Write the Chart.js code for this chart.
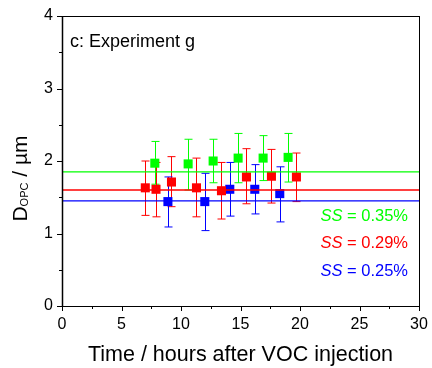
<!DOCTYPE html>
<html>
<head>
<meta charset="utf-8">
<script src="https://cdn.jsdelivr.net/npm/chart.js@4"></script>
<style>
  html, body { margin: 0; padding: 0; background: #fff; }
</style>
</head>
<body>
<canvas id="myChart" width="432" height="368"></canvas>
<script>
// SS = 0.35 %
const greenX = [7.8, 10.6, 12.7, 14.8, 16.9, 19.0];
const greenY = [1.97, 1.96, 2.00, 2.04, 2.04, 2.05];
const greenHi = [2.27, 2.30, 2.30, 2.38, 2.35, 2.38];
const greenLo = [1.68, 1.60, 1.70, 1.70, 1.73, 1.71];
// SS = 0.29 %
const redX = [7.0, 7.9, 9.2, 11.3, 13.4, 15.5, 17.6, 19.7];
const redY = [1.63, 1.61, 1.71, 1.63, 1.59, 1.78, 1.79, 1.78];
const redHi = [2.00, 1.98, 2.06, 2.04, 1.98, 2.17, 2.16, 2.11];
const redLo = [1.25, 1.23, 1.37, 1.23, 1.20, 1.41, 1.42, 1.44];
// SS = 0.25 %
const blueX = [8.9, 12.0, 14.1, 16.2, 18.3];
const blueY = [1.44, 1.44, 1.61, 1.61, 1.55];
const blueHi = [1.78, 1.83, 1.98, 1.95, 1.92];
const blueLo = [1.09, 1.04, 1.24, 1.27, 1.16];
// reference levels
const levelX = [0, 30];
const greenLevel = 1.85;
const redLevel = 1.60;
const blueLevel = 1.45;

const GREEN = "#00ff00", RED = "#ff0000", BLUE = "#0000ff";
const FONT = "'Liberation Sans', Arial, sans-serif";

function pts(xs, ys) {
  return xs.map((x, i) => ({ x: x, y: ys[i] }));
}
function level(v) {
  return levelX.map(x => ({ x: x, y: v }));
}
function squares(label, xs, ys, hi, lo, color) {
  return {
    label: label,
    type: "scatter",
    data: pts(xs, ys),
    errHi: hi,
    errLo: lo,
    pointStyle: "rect",
    pointRadius: 6.4,
    pointHoverRadius: 6.4,
    backgroundColor: color,
    borderColor: color,
    borderWidth: 0,
  };
}
function hline(v, color) {
  return {
    type: "line",
    data: level(v),
    borderColor: color,
    borderWidth: 1.3,
    pointRadius: 0,
    fill: false,
  };
}

const errorBars = {
  id: "errorBars",
  beforeDatasetsDraw(chart) {
    const ctx = chart.ctx, xs = chart.scales.x, ys = chart.scales.y;
    ctx.save();
    ctx.lineWidth = 1;
    chart.data.datasets.forEach(ds => {
      if (!ds.errHi) return;
      ctx.strokeStyle = ds.borderColor;
      ds.data.forEach((p, i) => {
        const px = Math.round(xs.getPixelForValue(p.x)) + 0.5;
        const t = ys.getPixelForValue(ds.errHi[i]);
        const b = ys.getPixelForValue(ds.errLo[i]);
        ctx.beginPath();
        ctx.moveTo(px, t); ctx.lineTo(px, b);
        ctx.moveTo(px - 4, t); ctx.lineTo(px + 4, t);
        ctx.moveTo(px - 4, b); ctx.lineTo(px + 4, b);
        ctx.stroke();
      });
    });
    ctx.restore();
  },
};

const decorations = {
  id: "decorations",
  afterDraw(chart) {
    const ctx = chart.ctx, a = chart.chartArea;
    const xs = chart.scales.x, ys = chart.scales.y;
    ctx.save();
    // frame
    ctx.strokeStyle = "#000";
    ctx.lineWidth = 1;
    ctx.strokeRect(a.left + 0.5, a.top + 0.5, a.right - a.left, a.bottom - a.top);
    ctx.lineWidth = 1.5;
    ctx.beginPath();
    ctx.moveTo(a.left + 0.5, a.top); ctx.lineTo(a.left + 0.5, a.bottom + 0.5);
    ctx.stroke();
    // ticks
    ctx.lineWidth = 1;
    ctx.beginPath();
    for (let v = 0; v <= 4.001; v += 0.5) {
      const py = Math.round(ys.getPixelForValue(v)) + 0.5;
      const len = Math.abs(v - Math.round(v)) < 0.01 ? 5 : 3;
      ctx.moveTo(a.left - len, py); ctx.lineTo(a.left, py);
    }
    for (let v = 0; v <= 30.001; v += 2.5) {
      const px = Math.round(xs.getPixelForValue(v)) + 0.5;
      const len = Math.abs(v / 5 - Math.round(v / 5)) < 0.01 ? 5 : 3;
      ctx.moveTo(px, a.bottom); ctx.lineTo(px, a.bottom + len);
    }
    ctx.stroke();

    ctx.fillStyle = "#000";
    ctx.textBaseline = "alphabetic";
    // panel label
    ctx.font = "18px " + FONT;
    ctx.textAlign = "left";
    ctx.fillText("c: Experiment g", 70, 47);
    // x title
    ctx.font = "21.5px " + FONT;
    ctx.textAlign = "center";
    ctx.fillText("Time / hours after VOC injection", (a.left + a.right) / 2, 361);
    // y title with subscript
    ctx.textAlign = "left";
    const big = "21px " + FONT, small = "11px " + FONT;
    ctx.font = big; const wD = ctx.measureText("D").width;
    const wRest = ctx.measureText(" / µm").width;
    ctx.font = small; const wSub = ctx.measureText("OPC").width;
    const total = wD + wSub + wRest;
    ctx.save();
    ctx.translate(27, 178.5);
    ctx.rotate(-Math.PI / 2);
    let x0 = -total / 2;
    ctx.font = big; ctx.fillText("D", x0, 0);
    ctx.font = small; ctx.fillText("OPC", x0 + wD, 1);
    ctx.font = big; ctx.fillText(" / µm", x0 + wD + wSub, 0);
    ctx.restore();
    // legend texts
    const legend = [["0.35%", GREEN, 221], ["0.29%", RED, 248], ["0.25%", BLUE, 276]];
    legend.forEach(([val, col, base]) => {
      ctx.fillStyle = col;
      ctx.font = "italic 16.5px " + FONT;
      const wSS = ctx.measureText("SS").width;
      ctx.font = "16.5px " + FONT;
      const rest = " = " + val;
      const wR = ctx.measureText(rest).width;
      const start = 408 - wSS - wR;
      ctx.font = "italic 16.5px " + FONT;
      ctx.fillText("SS", start, base);
      ctx.font = "16.5px " + FONT;
      ctx.fillText(rest, start + wSS, base);
    });
    ctx.restore();
  },
};

const config = {
  data: {
    datasets: [
      hline(greenLevel, GREEN),
      hline(redLevel, RED),
      hline(blueLevel, BLUE),
      squares("SS = 0.35%", greenX, greenY, greenHi, greenLo, GREEN),
      squares("SS = 0.29%", redX, redY, redHi, redLo, RED),
      squares("SS = 0.25%", blueX, blueY, blueHi, blueLo, BLUE),
    ],
  },
  options: {
    responsive: false,
    animation: false,
    devicePixelRatio: 1,
    layout: { padding: { top: 16, right: 13, left: 0, bottom: 0 } },
    plugins: { legend: { display: false }, tooltip: { enabled: false } },
    scales: {
      x: {
        type: "linear",
        min: 0,
        max: 30,
        ticks: { stepSize: 5, color: "#000", padding: 9, font: { size: 16, family: FONT } },
        grid: { display: false, drawTicks: false },
        border: { display: false },
        afterFit(s) { s.height = 62; s.paddingLeft = 0; s.paddingRight = 0; },
      },
      y: {
        min: 0,
        max: 4,
        ticks: { stepSize: 1, color: "#000", padding: 9, font: { size: 16, family: FONT } },
        grid: { display: false, drawTicks: false },
        border: { display: false },
        afterFit(s) { s.width = 62; s.paddingTop = 0; s.paddingBottom = 0; },
      },
    },
  },
  plugins: [errorBars, decorations],
};

const myChart = new Chart(document.getElementById("myChart"), config);
</script>
</body>
</html>
